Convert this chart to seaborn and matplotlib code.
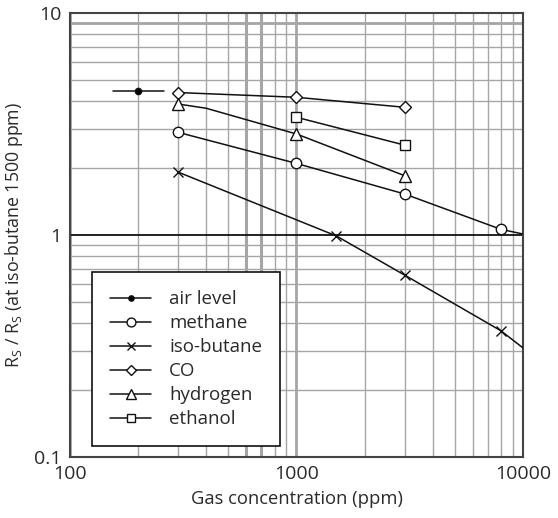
import matplotlib
matplotlib.use("Agg")
import matplotlib.pyplot as plt
import matplotlib.ticker as mticker
import seaborn as sns

# Sensitivity curves (log-log)
air_x = [155, 200, 260]
air_y = [4.47, 4.47, 4.47]

methane_x = [300, 1000, 3000, 8000, 10000]
methane_y = [2.90, 2.10, 1.53, 1.06, 1.01]

isobutane_x = [300, 1500, 3000, 8000, 10000]
isobutane_y = [1.92, 0.99, 0.66, 0.37, 0.31]

co_x = [300, 1000, 3000]
co_y = [4.38, 4.17, 3.76]

hydrogen_x = [300, 400, 1000, 3000]
hydrogen_y = [3.89, 3.72, 2.85, 1.85]

ethanol_x = [1000, 3000]
ethanol_y = [3.39, 2.54]

series = [
    ("air level", air_x, air_y, "o", [1], "black", 4.5),
    ("methane", methane_x, methane_y, "o", [0, 1, 2, 3], "white", 7.5),
    ("iso-butane", isobutane_x, isobutane_y, "x", [0, 1, 2, 3], "white", 7.5),
    ("CO", co_x, co_y, "D", [0, 1, 2], "white", 6.5),
    ("hydrogen", hydrogen_x, hydrogen_y, "^", [0, 2, 3], "white", 8),
    ("ethanol", ethanol_x, ethanol_y, "s", [0, 1], "white", 7),
]

sns.set_style("white")
plt.rcParams["font.family"] = ["Open Sans", "DejaVu Sans"]
plt.rcParams["mathtext.fontset"] = "custom"
plt.rcParams["mathtext.rm"] = "Open Sans"

TEXT = "#2a2a2a"
GRID = "#a6a6a6"

fig = plt.figure(figsize=(5.58, 5.18), dpi=100)
ax = fig.add_axes([0.1254, 0.1178, 0.8118, 0.8572])

for name, xs, ys, mk, every, face, ms in series:
    sns.lineplot(x=xs, y=ys, ax=ax, color="#111111", lw=1.1, marker=mk,
                 markevery=every, markersize=ms, markerfacecolor=face,
                 markeredgecolor="#111111", markeredgewidth=1.0,
                 label=name, errorbar=None, sort=False, zorder=5)

ax.set_xscale("log")
ax.set_yscale("log")
ax.set_xlim(100, 10000)
ax.set_ylim(0.1, 10)

ax.xaxis.set_major_locator(mticker.FixedLocator([100, 1000, 10000]))
ax.yaxis.set_major_locator(mticker.FixedLocator([0.1, 1, 10]))
ax.xaxis.set_minor_locator(mticker.LogLocator(base=10, subs=range(2, 10)))
ax.yaxis.set_minor_locator(mticker.LogLocator(base=10, subs=range(2, 10)))
ax.xaxis.set_major_formatter(mticker.FuncFormatter(lambda v, p: f"{v:g}"))
ax.yaxis.set_major_formatter(mticker.FuncFormatter(lambda v, p: f"{v:g}"))
ax.xaxis.set_minor_formatter(mticker.NullFormatter())
ax.yaxis.set_minor_formatter(mticker.NullFormatter())

ax.grid(which="minor", color=GRID, lw=1.0)
ax.xaxis.grid(which="major", color=GRID, lw=2.0)
ax.yaxis.grid(which="major", color="#111111", lw=1.3)
# heavier grid lines as printed in the original sheet
for xv in [600, 700]:
    ax.axvline(xv, color=GRID, lw=2.2, zorder=0.5)
ax.axhline(9, color=GRID, lw=2.0, zorder=0.5)
ax.set_axisbelow(True)

ax.tick_params(which="both", length=0, labelsize=14, colors=TEXT, pad=6)
for s in ax.spines.values():
    s.set_color("#444444")
    s.set_linewidth(1.5)

ax.set_xlabel("Gas concentration (ppm)", fontsize=13.2, color=TEXT, labelpad=5)
ax.set_ylabel(r"R$_\mathregular{S}$ / R$_\mathregular{S}$ (at iso-butane 1500 ppm)",
              fontsize=12.8, color=TEXT, labelpad=7)

leg = ax.legend(loc="lower left", bbox_to_anchor=(0.049, 0.025), borderaxespad=0,
                fontsize=13.5, frameon=True, fancybox=False, handlelength=2.2,
                handletextpad=0.95, borderpad=0.95, labelspacing=0.32,
                markerscale=0.85)
leg.get_frame().set_edgecolor("#111111")
leg.get_frame().set_linewidth(1.2)
leg.get_frame().set_facecolor("white")
leg.get_frame().set_alpha(1)
for t in leg.get_texts():
    t.set_color(TEXT)

fig.savefig("out.png", dpi=100)
